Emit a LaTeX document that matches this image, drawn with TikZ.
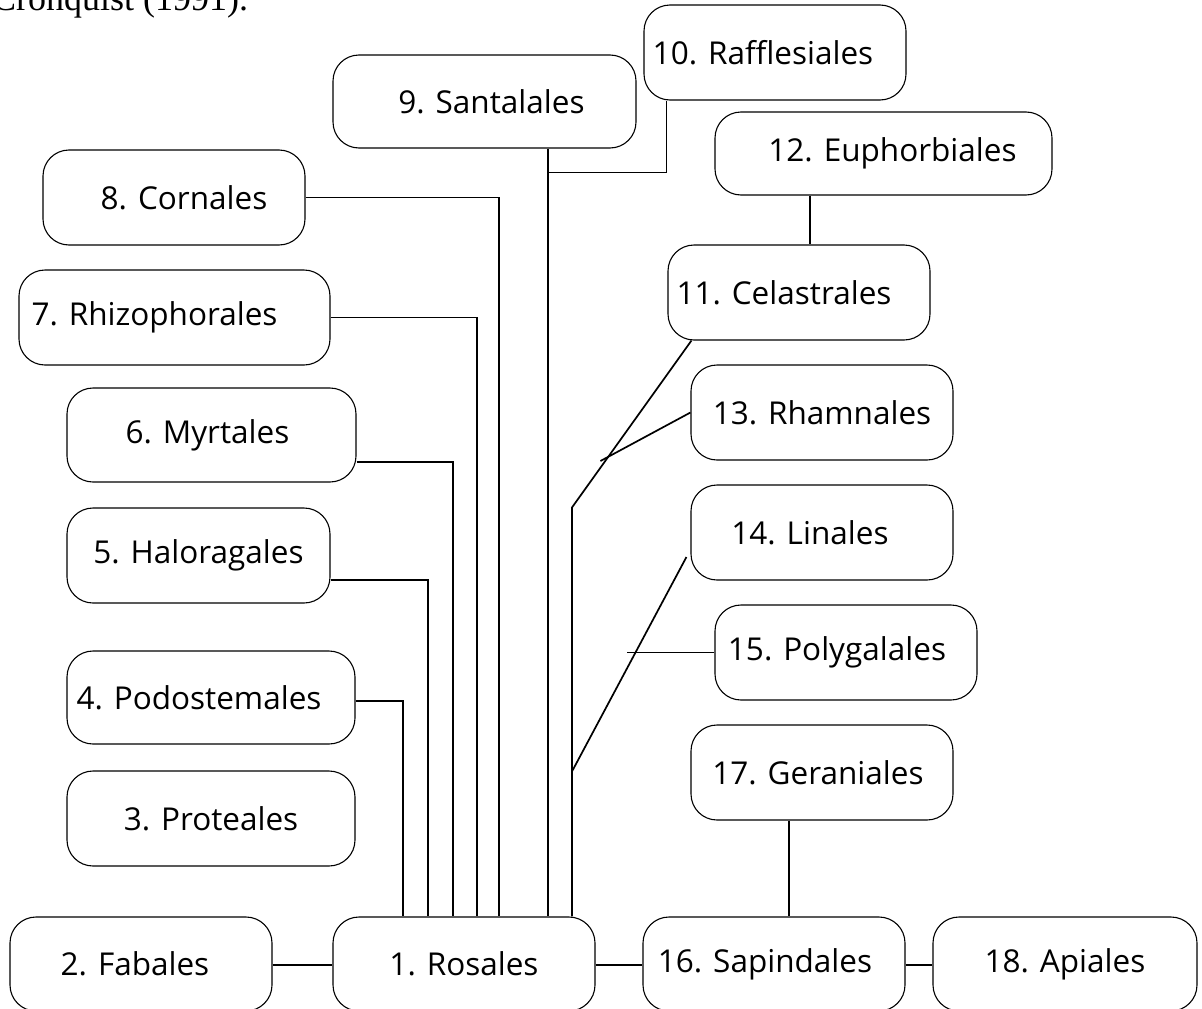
\documentclass[tikz,border=0pt]{standalone}
\usepackage{fontspec}
\setmainfont{Open Sans}
\newfontfamily\capserif{Liberation Serif}
\usetikzlibrary{calc}
\begin{document}
\begin{tikzpicture}[x=1pt,y=-1pt,
  box/.style 2 args={draw, rounded corners=26pt, line width=1.1pt, inner sep=0pt,
    minimum width=#1pt, minimum height=#2pt, font=\fontsize{31.5}{36}\selectfont},
  conn/.style={line width=1.7pt, line cap=butt}]
\useasboundingbox (0,0) rectangle (1202,1009);
\node[anchor=base west, inner sep=0pt, font=\capserif\fontsize{36}{40}\selectfont] (cap) at (-8,10) {Cronquist (1991).};

\node[box={262}{95}] (n10) at (775,52.5) {\hspace*{-24pt}10. Rafflesiales};
\node[box={303}{93}] (n9) at (484.5,101.5) {\hspace*{14pt}9. Santalales};
\node[box={337}{83}] (n12) at (883.5,153.5) {\hspace*{18pt}12. Euphorbiales};
\node[box={262}{95}] (n8) at (174,197.5) {\hspace*{20pt}8. Cornales};
\node[box={262}{95}] (n11) at (799,292.5) {\hspace*{-30pt}11. Celastrales};
\node[box={311}{95}] (n7) at (174.5,317.5) {\hspace*{-40pt}7. Rhizophorales};
\node[box={262}{95}] (n13) at (822,412.5) {13. Rhamnales};
\node[box={289}{94}] (n6) at (211.5,435) {\hspace*{-8pt}6. Myrtales};
\node[box={262}{95}] (n14) at (822,532.5) {\hspace*{-24pt}14. Linales};
\node[box={263}{95}] (n5) at (198.5,555.5) {5. Haloragales};
\node[box={262}{95}] (n15) at (846,652.5) {\hspace*{-18pt}15. Polygalales};
\node[box={288}{93}] (n4) at (211,697.5) {\hspace*{-24pt}4. Podostemales};
\node[box={262}{95}] (n17) at (822,772.5) {\hspace*{-8pt}17. Geraniales};
\node[box={288}{95}] (n3) at (211,818.5) {3. Proteales};
\node[box={262}{94}] (n2) at (141,964) {\hspace*{-12pt}2. Fabales};
\node[box={262}{94}] (n1) at (464,964) {1. Rosales};
\node[box={262}{94}] (n16) at (774,964) {\hspace*{-18pt}16. Sapindales};
\node[box={264}{94}] (n18) at (1065,964) {18. Apiales};

% left-hand branches into Rosales
\draw[conn] (n4.east) ++(0,3.5) -| ($(n1.north)+(-61,0)$);
\draw[conn] ($(n5.east)+(0,24.5)$) -| ($(n1.north)+(-36,0)$);
\draw[conn] ($(n6.east)+(0,27)$) -| ($(n1.north)+(-11,0)$);
\draw[conn] (n7.east) -| ($(n1.north)+(13,0)$);
\draw[conn] (n8.east) -| ($(n1.north)+(35,0)$);
% Santalales and Rafflesiales
\coordinate (j9) at ($(n9.south)+(63.5,24)$);
\draw[conn] ($(n9.south)+(63.5,0)$) -- ($(n1.north)+(84,0)$);
\draw[conn] ($(n10.south west)+(23,0)$) |- (j9);
% Euphorbiales - Celastrales
\draw[conn] ($(n12.south)+(-73.5,0)$) -- ($(n11.north)+(11,0)$);
% Celastrales branch
\coordinate (kc) at ($(n1.north)+(108,-409)$);
\draw[conn] ($(n11.south west)+(24,0)$) -- (kc) -- ($(n1.north)+(108,0)$);
\coordinate (kr) at ($(n13.west)+(-90,48.5)$);
\draw[conn] (n13.west) -- (kr);
\coordinate (kl) at ($(n1.north)+(108,-145)$);
\draw[conn] ($(n14.west)+(-4,24.5)$) -- (kl);
\coordinate (kp) at ($(n15.west)+(-87,0)$);
\draw[conn] (n15.west) -- (kp);
% Geraniales - Sapindales
\draw[conn] ($(n17.south)+(-33,0)$) -- ($(n16.north)+(15,0)$);
% bottom row
\draw[conn] ($(n2.east)+(0,1)$) -- ($(n1.west)+(0,1)$);
\draw[conn] ($(n1.east)+(0,1)$) -- ($(n16.west)+(0,1)$);
\draw[conn] ($(n16.east)+(0,1)$) -- ($(n18.west)+(0,1)$);
\end{tikzpicture}
\end{document}
